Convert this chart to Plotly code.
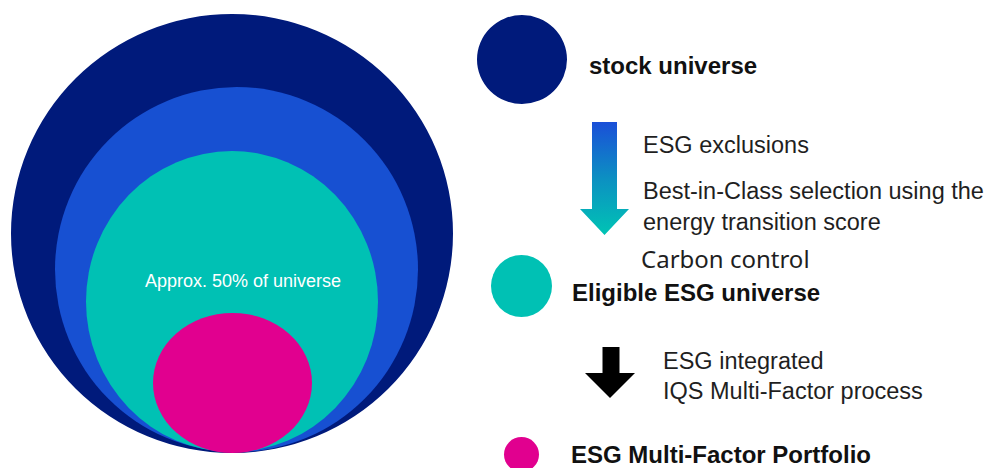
import plotly.graph_objects as go

# ---- data ----
universe_labels = ["stock universe", "Eligible ESG universe", "ESG Multi-Factor Portfolio"]
step1_lines = ["ESG exclusions", "Best-in-Class selection using the", "energy transition score"]
step1_extra = "Carbon control"
step2_lines = ["ESG integrated", "IQS Multi-Factor process"]
share_label = "Approx. 50% of universe"

# ---- styles ----
NAVY = "#001a7b"
BLUE = "#1750d2"
TEAL = "#00c1b4"
MAGENTA = "#e1008f"
TXT = "#1f1f1f"

W, H = 999, 468
OFF = 8  # page body margin compensation
fig = go.Figure()

# nested circles (pixel boxes)
nested = [
    (11, 14, 453, 453, NAVY),
    (55, 87, 418, 452, BLUE),
    (86, 151, 378, 452, TEAL),
    (153, 313, 312, 453, MAGENTA),
]
for x0, y0, x1, y1, c in nested:
    fig.add_shape(type="circle", xref="x", yref="y", x0=x0, y0=y0, x1=x1, y1=y1,
                  fillcolor=c, line=dict(width=0), layer="below")

# legend circles
legend_circles = [
    (477, 15, 567, 104, NAVY),
    (491, 255, 552, 317, TEAL),
    (504, 437, 539, 472, MAGENTA),
]
for x0, y0, x1, y1, c in legend_circles:
    fig.add_shape(type="circle", xref="x", yref="y", x0=x0, y0=y0, x1=x1, y1=y1,
                  fillcolor=c, line=dict(width=0), layer="below")

# gradient arrow
cx, sw, hw = 604.5, 12.5, 24.5
top, htop, tip = 122, 209, 235
ax_ = [cx - sw, cx + sw, cx + sw, cx + hw, cx, cx - hw, cx - sw, cx - sw]
ay_ = [top, top, htop, htop, tip, htop, htop, top]
fig.add_trace(go.Scatter(
    x=ax_, y=ay_, mode="lines", fill="toself", line=dict(width=0, color="rgba(0,0,0,0)"),
    fillgradient=dict(type="vertical", start=top, stop=tip,
                      colorscale=[[0, "#1a4fd8"], [0.5, "#0c90c2"], [1, "#00c4b4"]]),
    hoverinfo="skip", showlegend=False))

# black arrow
bx, bsw, bhw = 611, 8.5, 24
btop, bhtop, btip = 347, 373, 398
bxs = [bx - bsw, bx + bsw, bx + bsw, bx + bhw, bx - 1, bx - bhw - 2, bx - bsw, bx - bsw]
bys = [btop, btop, bhtop, bhtop, btip, bhtop, bhtop, btop]
fig.add_trace(go.Scatter(
    x=bxs, y=bys, mode="lines", fill="toself", fillcolor="#000000",
    line=dict(width=0, color="#000000"), hoverinfo="skip", showlegend=False))

BOLD = dict(family="Liberation Sans, Arial, sans-serif", size=24, color="#111111")
REG = dict(family="Liberation Sans, Arial, sans-serif", size=23.5, color=TXT)


def txt(x, y, s, font, xanchor="left", pad=1):
    fig.add_annotation(x=x, y=y, xref="x", yref="y", text=s, showarrow=False,
                       xanchor=xanchor, yanchor="middle", font=font, borderpad=pad)


txt(587, 65, "<b>" + universe_labels[0] + "</b>", BOLD)
txt(570, 292, "<b>" + universe_labels[1] + "</b>", BOLD)
txt(570, 454, "<b>" + universe_labels[2] + "</b>", BOLD, pad=0)

for y, s in zip([145, 191, 222], step1_lines):
    txt(641, y, s, REG)
txt(639, 258, step1_extra, dict(family="Noto Sans, sans-serif", size=24, color=TXT))
for y, s in zip([361, 391], step2_lines):
    txt(661, y, s, REG)

txt(243, 281, share_label, dict(family="Liberation Sans, Arial, sans-serif", size=18, color="#ffffff"),
    xanchor="center")

fig.update_layout(
    width=W - OFF, height=H - OFF, margin=dict(l=0, r=0, t=0, b=0),
    paper_bgcolor="white", plot_bgcolor="white",
    xaxis=dict(range=[OFF, W], visible=False, fixedrange=True),
    yaxis=dict(range=[H, OFF], visible=False, fixedrange=True),
    showlegend=False,
)

fig.write_html("out.html")
